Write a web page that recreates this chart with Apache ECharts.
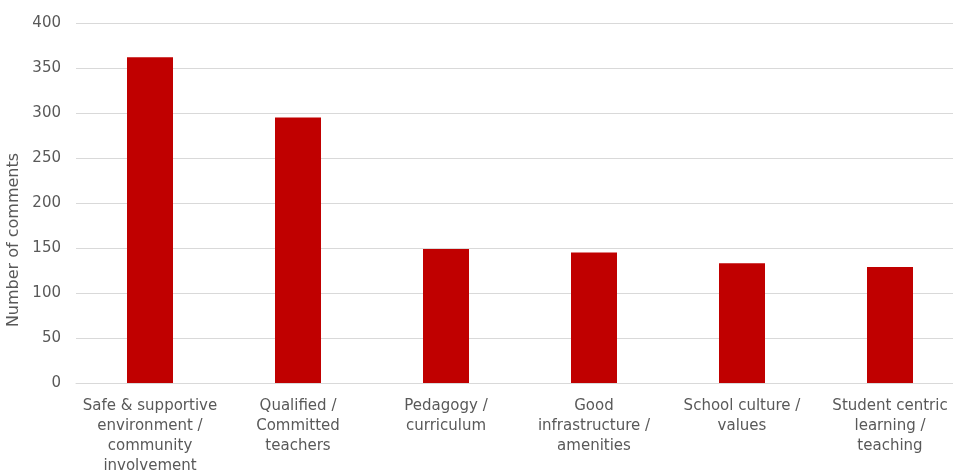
<!DOCTYPE html>
<html>
<head>
<meta charset="utf-8">
<script src="https://cdn.jsdelivr.net/npm/echarts@6/dist/echarts.min.js"></script>
<style>html,body{margin:0;padding:0;background:#fff}#c{width:953px;height:472px}</style>
</head>
<body>
<div id="c"></div>
<script>
const categories = [
  "Safe & supportive\nenvironment /\ncommunity\ninvolvement",
  "Qualified /\nCommitted\nteachers",
  "Pedagogy /\ncurriculum",
  "Good\ninfrastructure /\namenities",
  "School culture /\nvalues",
  "Student centric\nlearning /\nteaching"
];
const values = [362, 295, 149, 145, 133, 129];
const yTicks = [0, 50, 100, 150, 200, 250, 300, 350, 400];

const chart = echarts.init(document.getElementById('c'), null, {renderer: 'canvas'});
chart.setOption({
  animation: false,
  textStyle: {fontFamily: '"DejaVu Sans", sans-serif'},
  grid: {left: 76, right: -11, top: 23, bottom: 89, containLabel: false, outerBoundsMode: 'none'},
  xAxis: {
    type: 'category',
    data: categories,
    axisLine: {lineStyle: {color: '#d9d9d9', width: 1}},
    axisTick: {show: false},
    axisLabel: {color: '#595959', fontSize: 15, lineHeight: 20, margin: 13, interval: 0}
  },
  yAxis: {
    type: 'value',
    min: yTicks[0],
    max: yTicks[yTicks.length - 1],
    interval: 50,
    name: 'Number of comments',
    nameLocation: 'middle',
    nameGap: 50,
    nameTextStyle: {color: '#595959', fontSize: 16, padding: [0, 74, 0, 0]},
    axisLine: {show: false},
    axisTick: {show: false},
    axisLabel: {color: '#595959', fontSize: 15, margin: 15},
    splitLine: {lineStyle: {color: '#d9d9d9', width: 1}}
  },
  series: [{
    type: 'bar',
    data: values,
    barWidth: 46,
    itemStyle: {color: '#c00000'}
  }]
});
</script>
</body>
</html>
